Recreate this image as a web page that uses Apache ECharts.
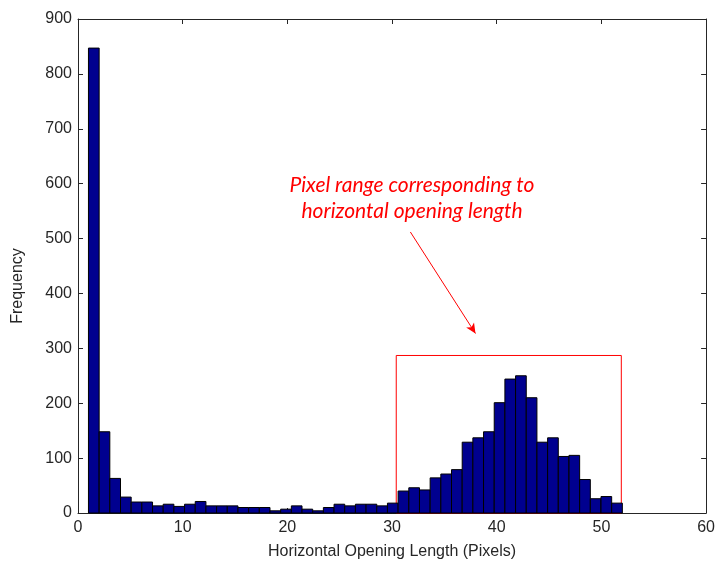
<!DOCTYPE html>
<html lang="en">
<head>
    <meta charset="UTF-8">
    <title>Horizontal Opening Length</title>
    <style>
        html, body { margin: 0; padding: 0; background: #fff; }
        #chart { width: 718px; height: 565px; }
    </style>
</head>
<body>
<div id="chart"></div>
<script src="https://cdn.jsdelivr.net/npm/echarts@6/dist/echarts.min.js"></script>
<script type="text/javascript">
    // histogram: 50 bins from 1 to 52
    var binLo = 1;
    var binHi = 52;
    var counts = [847, 148, 63, 29, 20, 20, 13, 16, 12, 16,
                  21, 13, 13, 13, 10, 10, 10, 4, 7, 13,
                  7, 4, 10, 16, 13, 16, 16, 13, 18, 40,
                  46, 42, 64, 71, 79, 129, 137, 148, 201, 244,
                  250, 210, 129, 137, 103, 105, 61, 26, 30, 18];
    var xTicks = [0, 10, 20, 30, 40, 50, 60];
    var yTicks = [0, 100, 200, 300, 400, 500, 600, 700, 800, 900];
    // annotation: red box and arrow (data coords)
    var boxX = [30.4, 51.9];
    var boxTop = 287;
    var arrowFrom = [31.75, 512];
    var arrowTo = [37.97, 327];
    var noteLines = ['Pixel range corresponding to', 'horizontal opening length'];

    var binW = (binHi - binLo) / counts.length;
    var bins = counts.map(function (c, i) {
        return [binLo + i * binW, binLo + (i + 1) * binW, c];
    });

    var chart = echarts.init(document.getElementById('chart'));
    var axisCol = '#262626';
    var font = 'Liberation Sans';

    function frameAxis(pos) {  // top / right border with inner ticks, no labels
        return {
            type: 'value', position: pos,
            min: pos === 'top' ? xTicks[0] : yTicks[0],
            max: pos === 'top' ? xTicks[xTicks.length - 1] : yTicks[yTicks.length - 1],
            interval: pos === 'top' ? 10 : 100,
            axisLine: { show: true, onZero: false, lineStyle: { color: axisCol, width: 1 } },
            axisTick: { show: true, inside: true, length: 5, lineStyle: { color: axisCol } },
            axisLabel: { show: false },
            splitLine: { show: false }
        };
    }

    var option = {
        animation: false,
        grid: { left: 78, right: 9, top: 19, bottom: 52, containLabel: false },
        xAxis: [{
            type: 'value', min: xTicks[0], max: xTicks[xTicks.length - 1], interval: 10,
            name: 'Horizontal Opening Length (Pixels)', nameLocation: 'middle', nameGap: 31,
            nameTextStyle: { fontFamily: font, fontSize: 16, color: axisCol },
            axisLine: { show: true, onZero: false, lineStyle: { color: axisCol, width: 1 } },
            axisTick: { show: true, inside: true, length: 5, lineStyle: { color: axisCol } },
            axisLabel: { fontFamily: font, fontSize: 16, color: axisCol, margin: 7 },
            splitLine: { show: false }
        }, frameAxis('top')],
        yAxis: [{
            type: 'value', min: yTicks[0], max: yTicks[yTicks.length - 1], interval: 100,
            name: 'Frequency', nameLocation: 'middle', nameGap: 52, nameRotate: 90,
            nameTextStyle: { fontFamily: font, fontSize: 16, color: axisCol, padding: [0, 40, 0, 0] },
            axisLine: { show: true, onZero: false, lineStyle: { color: axisCol, width: 1 } },
            axisTick: { show: true, inside: true, length: 5, lineStyle: { color: axisCol } },
            axisLabel: { fontFamily: font, fontSize: 16, color: axisCol, margin: 6 },
            splitLine: { show: false }
        }, frameAxis('right')],
        series: [{
            type: 'custom',
            data: bins,
            encode: { x: [0, 1], y: 2 },
            renderItem: function (params, api) {
                var p0 = api.coord([api.value(0), api.value(2)]);
                var p1 = api.coord([api.value(1), 0]);
                return {
                    type: 'rect',
                    shape: { x: p0[0], y: p0[1], width: p1[0] - p0[0], height: p1[1] - p0[1] },
                    style: { fill: '#00008F', stroke: '#000', lineWidth: 1 }
                };
            },
            markArea: {
                silent: true,
                itemStyle: { color: 'rgba(0,0,0,0)', borderColor: '#FF0000', borderWidth: 1 },
                data: [[{ coord: [boxX[0], 0] }, { coord: [boxX[1], boxTop] }]]
            },
            markLine: {
                silent: true,
                symbol: ['none', 'arrow'],
                symbolSize: [7, 10],
                label: { show: false },
                lineStyle: { color: '#FF0000', width: 1, type: 'solid' },
                data: [[{ coord: arrowFrom }, { coord: arrowTo }]]
            }
        }],
        graphic: [{
            type: 'text',
            x: 412, y: 172,
            style: {
                text: noteLines.join('\n'),
                align: 'center',
                fill: '#FF0000',
                font: 'italic 21px Lato',
                lineHeight: 26
            }
        }]
    };
    chart.setOption(option);
</script>
</body>
</html>
